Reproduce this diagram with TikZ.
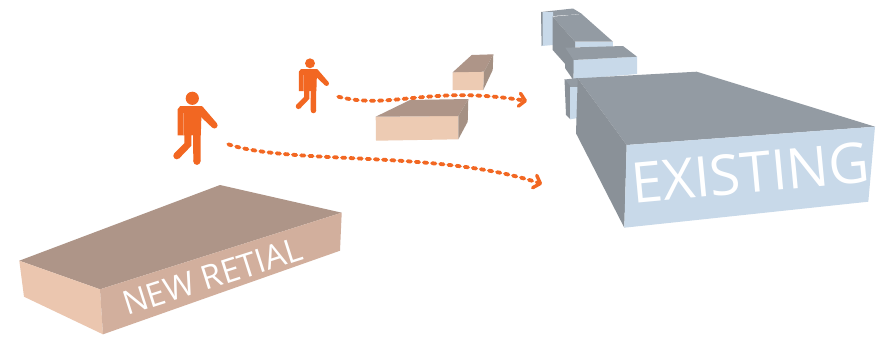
\documentclass[tikz,border=0pt]{standalone}
\usepackage{fontspec}
\setmainfont{Open Sans}
\usetikzlibrary{arrows.meta}
\definecolor{ptop}{HTML}{AE9588}
\definecolor{pfront}{HTML}{EBC6AF}
\definecolor{pside}{HTML}{D2AF9D}
\definecolor{psmall}{HTML}{EDCBB3}
\definecolor{psmallside}{HTML}{A59184}
\definecolor{btop}{HTML}{939BA3}
\definecolor{bfront}{HTML}{C8D9E9}
\definecolor{bside}{HTML}{8A9198}
\definecolor{walk}{HTML}{F26722}
\tikzset{
  x=1pt,y=-1pt,
  roof/.style={fill=ptop},
  rfront/.style={fill=psmall},
  rside/.style={fill=psmallside},
  stop/.style={fill=btop},
  sfront/.style={fill=bfront},
  sside/.style={fill=bside},
  route/.style={draw=walk,line width=3.8pt,line cap=round,dash pattern=on 3.4pt off 4.8pt,
    -{Straight Barb[length=6pt,width=13pt,line width=3.4pt,round]}},
  walker/.pic={
    \fill[walk] (0,0) circle (6.6);
    % torso and near arm
    \fill[walk] (-14.7,11) -- (-12,7.7) -- (9.4,7.7) -- (8.5,37) -- (-14.7,37) -- cycle;
    % far arm and hand
    \fill[walk] (8,7.7) -- (10,8) -- (24.6,25) -- (19.6,29) -- (8,18) -- cycle;
    \fill[walk] (22.1,27) circle (3.2);
    % straight leg
    \fill[walk] (0.8,34) -- (8.3,34) -- (8.2,63) -- (1,63) -- cycle;
    \fill[walk] (4.6,63) circle (3.6);
    % bent leg
    \fill[walk] (-8,34) -- (-1,34) -- (-1,47.5) -- (-13,60) -- (-18,55) -- (-8,45) -- cycle;
    \fill[walk] (-15.5,57.5) circle (3.5);
    % slit between arm and torso
    \fill[white,opacity=.3] (-9.2,15) -- (-8.6,15) -- (-8.6,37) -- (-9.2,37) -- cycle;
    \fill[white,opacity=.3] (0,37) -- (.6,37) -- (.6,46) -- (0,46) -- cycle;
  }
}
\begin{document}
\begin{tikzpicture}
\useasboundingbox[fill=white] (0,0) rectangle (888,338);
% existing: far blocks
\fill[stop] (541,12) -- (573,8.5) -- (582,14) -- (553,16) -- cycle;
\fill[sfront] (541,12) -- (553,12) -- (553,45) -- (541.7,46) -- cycle;
\fill[sside] (541,12) -- (542.5,12) -- (542.5,45) -- (541.7,46) -- cycle;
\fill[sfront] (575,41.7) -- (613,41.7) -- (613,47) -- (575,47) -- cycle;
\fill[stop] (552.7,16.7) -- (581.7,14) -- (613,41.7) -- (575,41.7) -- cycle;
\fill[sside] (552.7,16.7) -- (575,41.7) -- (575,75) -- (552.7,50) -- cycle;
\fill[sfront] (573.3,60) -- (637,56.7) -- (637,74) -- (573.3,79.5) -- cycle;
\fill[stop] (565,47.7) -- (623,46) -- (637,56.7) -- (573.3,60) -- cycle;
\fill[sside] (565,47.7) -- (573.3,60) -- (573.3,80) -- (565,68) -- cycle;
\fill[stop] (564.5,79.5) -- (578,78) -- (578,87) -- (570,87) -- cycle;
\fill[sside] (564.5,79) -- (570,86) -- (570,119) -- (566,115) -- cycle;
\fill[sfront] (570,87) -- (578,87) -- (578,118) -- (570,119.3) -- cycle;
% existing: main block
\fill[stop] (577.7,78.3) -- (696.7,71.7) -- (875,126.7) -- (626.7,145) -- cycle;
\fill[sside] (577.7,78.3) -- (626.7,145) -- (624.3,227.7) -- (576,133.3) -- cycle;
\fill[sfront] (626.7,145) -- (875,126.7) -- (868.3,201.7) -- (624.3,227.7) -- cycle;
\node[anchor=base west,inner sep=0pt,rotate=5.3,text=white,font=\fontsize{56}{56}\selectfont] (existing) at (633,203.5) {EXISTING};
% small retail blocks
\fill[rfront] (452.7,72.3) -- (484,71.7) -- (483.3,90) -- (452.7,90) -- cycle;
\fill[roof] (452.7,72.3) -- (471.7,55) -- (493.3,54.3) -- (484,71.7) -- cycle;
\fill[rside] (493.3,54.3) -- (492.7,70) -- (483.3,90) -- (484,71.7) -- cycle;
\fill[rfront] (375.7,116.7) -- (458.3,116) -- (458.3,139.3) -- (376,140.7) -- cycle;
\fill[roof] (375.7,116.7) -- (410,100) -- (468.3,99) -- (458.3,116) -- cycle;
\fill[rside] (468.3,99) -- (467.7,121.7) -- (458.3,139.3) -- (458.3,116) -- cycle;
% new retail
\fill[roof] (19.3,260.7) -- (220,185) -- (341.7,212.7) -- (100,289.3) -- cycle;
\fill[fill=pfront] (19.3,260.7) -- (100,289.3) -- (103,334.3) -- (24,296.7) -- cycle;
\fill[pside] (100,289.3) -- (341.7,212.7) -- (340,250.7) -- (103,334.3) -- cycle;
\node[anchor=base west,inner sep=0pt,rotate=17.7,text=white,font=\fontsize{33}{33}\selectfont] (retail) at (127,316) {NEW RETIAL};
% walkers
\pic at (192.3,98.3) {walker};
\pic[scale=.75] at (310,63.3) {walker};
% routes
\coordinate (r1a) at (228.3,144.3);
\coordinate (r1b) at (542,184);
\coordinate (r2a) at (338.3,96.7);
\coordinate (r2b) at (527,101);
\draw[route] (r1a) .. controls (290,165) and (440,150) .. (r1b);
\draw[route] (r2a) .. controls (390,110) and (430,85) .. (r2b);
\end{tikzpicture}
\end{document}
